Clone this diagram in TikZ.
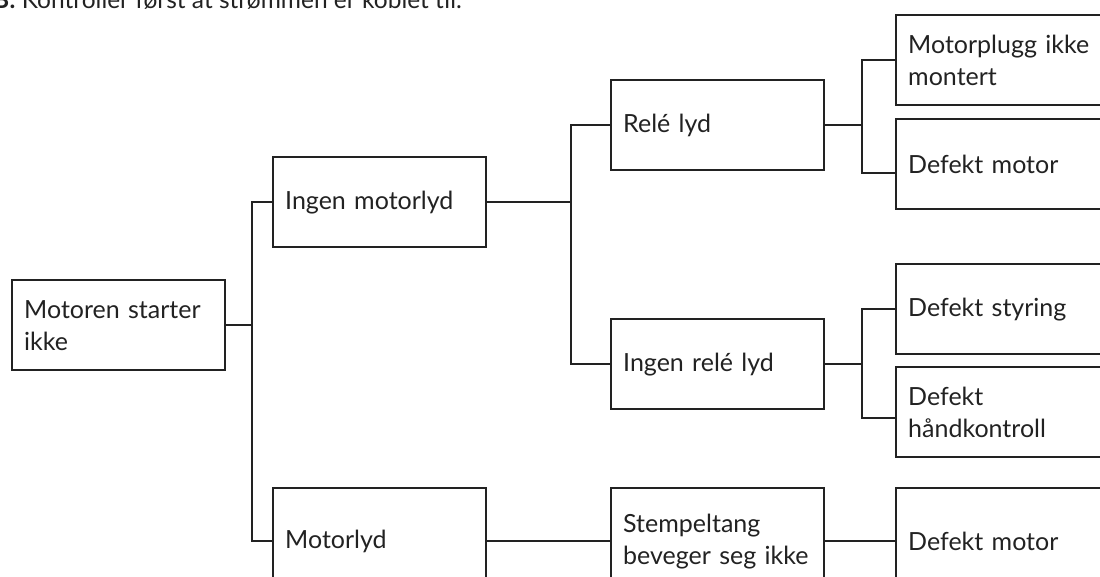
\documentclass[tikz,border=0pt]{standalone}
\usepackage{fontspec}
\setmainfont{Lato}
\usetikzlibrary{calc}
\definecolor{ink}{HTML}{222222}

\begin{document}
\begin{tikzpicture}[x=1pt,y=-1pt,
    box/.style={draw=ink, line width=2.4pt, anchor=north west, text=ink,
        minimum height=90pt, text width=189pt, inner xsep=12pt, inner ysep=0pt,
        align=left, font=\fontsize{25}{32}\selectfont},
    tall/.style={minimum height=106pt},
    link/.style={draw=ink, line width=2.4pt}]
    \useasboundingbox (0,0) rectangle (1100,577);

    % note line, cut off at the top edge
    \node[anchor=base west, inner sep=0pt, text=ink, font=\fontsize{24.5}{32}\selectfont]
        (note) at (-7,9) {\textbf{B:} Kontroller først at strømmen er koblet til.};

    % first level
    \node[box] (start) at (11,279) {Motoren starter\\ikke};
    % second level
    \node[box] (nosound) at (272,156) {Ingen motorlyd};
    \node[box, tall] (sound) at (272,487) {Motorlyd};
    % third level
    \node[box] (relay) at (610,79) {Relé lyd};
    \node[box] (norelay) at (610,318) {Ingen relé lyd};
    \node[box, tall] (piston) at (610,487) {Stempeltang\\beveger seg ikke};
    % fourth level
    \node[box] (plug) at (895,14) {Motorplugg ikke\\montert};
    \node[box] (motorA) at (895,118) {Defekt motor};
    \node[box] (control) at (895,263) {Defekt styring};
    \node[box] (handset) at (895,366) {Defekt\\håndkontroll};
    \node[box, tall] (motorB) at (895,487) {Defekt motor};

    % forks
    \coordinate (fork1) at ($(nosound.west)+(-20,0)$);
    \coordinate (fork2) at ($(relay.west)+(-39,0)$);
    \coordinate (fork3) at ($(plug.west)+(-33,0)$);

    % connectors
    \draw[link] (start.east) -- (start.east -| fork1);
    \draw[link] (nosound.west) -- (fork1) |- (sound.west);
    \draw[link] (nosound.east) -- (nosound.east -| fork2);
    \draw[link] (relay.west) -- (fork2) |- (norelay.west);
    \draw[link] (sound.east) -- (piston.west);
    \draw[link] (relay.east) -- (relay.east -| fork3);
    \draw[link] (plug.west) -- (fork3) |- ([yshift=-9pt]motorA.west);
    \draw[link] (norelay.east) -- (norelay.east -| fork3);
    \draw[link] (control.west) -- (fork3 |- control.west) |- ([yshift=-6pt]handset.west);
    \draw[link] (piston.east) -- (motorB.west);
\end{tikzpicture}
\end{document}
